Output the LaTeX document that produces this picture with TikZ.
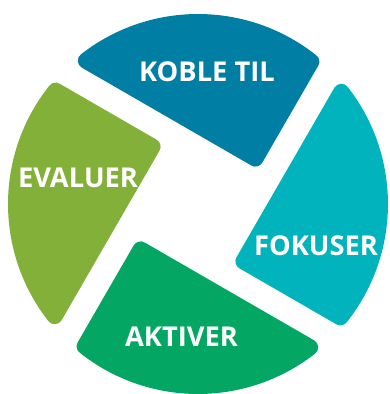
\documentclass[tikz,border=0pt]{standalone}
\usepackage{fontspec}
\setmainfont{Open Sans}
\definecolor{cblue}{RGB}{0,126,164}
\definecolor{cteal}{RGB}{0,179,188}
\definecolor{cgreen}{RGB}{3,166,98}
\definecolor{colive}{RGB}{131,176,56}
\tikzset{
  seg/.style={line width=16pt, line join=round},
  lbl/.style={text=white, inner sep=0pt, font=\fontsize{27.3}{30}\selectfont\bfseries}
}
\begin{document}
\begin{tikzpicture}[x=1pt,y=1pt]
\def\ra{27}\def\rb{68}\def\RR{182}
\useasboundingbox (-198,-190) rectangle (191,204);
\foreach \ang/\col in {-30/cblue,-120/cteal,-210/cgreen,-300/colive}{
  \begin{scope}[rotate=\ang]
    \filldraw[seg, fill=\col, draw=\col] (\ra,\rb) -- ({acos(\ra/\RR)}:\RR)
      arc[start angle={acos(\ra/\RR)}, end angle={180-asin(\rb/\RR)}, radius=\RR] -- cycle;
  \end{scope}
}
\node[lbl] (koble) at (9,132) {KOBLE TIL};
\node[lbl] (evaluer) at (-120,26.5) {EVALUER};
\node[lbl] (fokuser) at (118,-41.7) {FOKUSER};
\node[lbl] (aktiver) at (-16.5,-133) {AKTIVER};
\end{tikzpicture}
\end{document}
